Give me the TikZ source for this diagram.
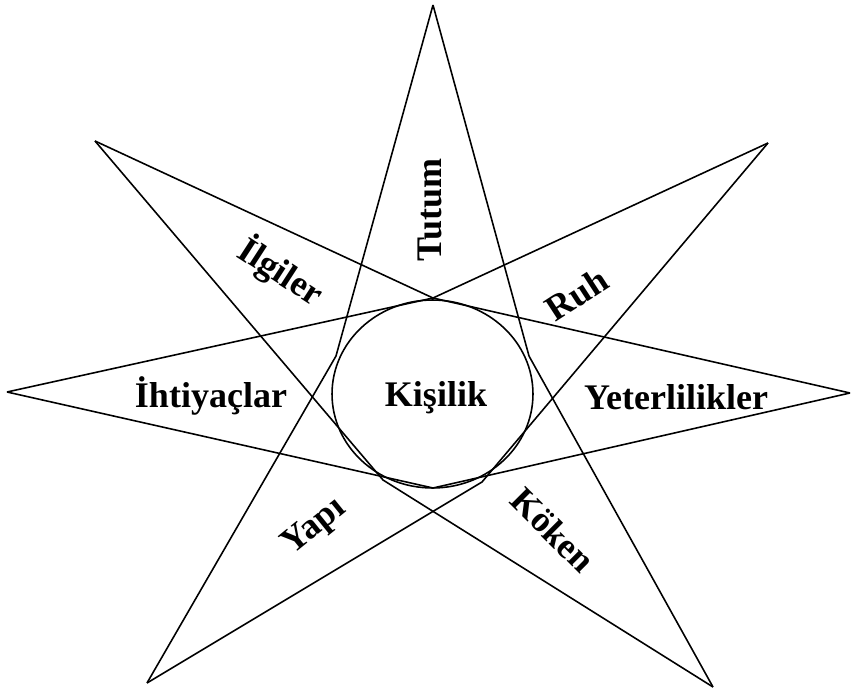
\documentclass[tikz,border=0pt]{standalone}
\usepackage{fontspec}
\setmainfont{Liberation Serif}
\usetikzlibrary{shapes.geometric}

\begin{document}
\begin{tikzpicture}[
    x=0.02cm, y=-0.02cm,
    spike/.style={draw=black, line width=0.9pt, line join=miter},
    core/.style={ellipse, draw=black, line width=0.9pt, minimum width=4.02cm, minimum height=3.76cm, inner sep=0pt},
    word/.style={font=\bfseries\fontsize{20.5}{24}\selectfont, inner sep=0pt},
]
    \useasboundingbox (0,0) rectangle (852,692);

    % tips of the star
    \coordinate (tutum) at (433,5);
    \coordinate (ruh) at (768,143);
    \coordinate (yeter) at (850,393);
    \coordinate (koken) at (713,687);
    \coordinate (yapi) at (147,683);
    \coordinate (ihti) at (7,392);
    \coordinate (ilgi) at (95,141);

    % where the lines bend at the circle
    \coordinate (kN) at (433,298);
    \coordinate (kNW) at (336,356);
    \coordinate (kNE) at (529,356);
    \coordinate (kSW) at (383,480);
    \coordinate (kSE) at (482,482);
    \coordinate (kS) at (433,488);

    \node[core] (kisilik) at (432.5,394) {};
    \node[word] (kisiliktxt) at (436,398) {Kişilik};

    \draw[spike] (tutum) -- (kNW) -- (yapi);
    \draw[spike] (tutum) -- (kNE) -- (koken);
    \draw[spike] (ilgi) -- (kN) -- (yeter);
    \draw[spike] (ihti) -- (kN) -- (ruh);
    \draw[spike] (ihti) -- (kS) -- (yeter);
    \draw[spike] (ilgi) -- (kSW) -- (koken);
    \draw[spike] (ruh) -- (kSE) -- (yapi);

    \node[word, rotate=90] (tutumtxt) at (430,210) {Tutum};
    \node[word, rotate=33] (ruhtxt) at (577,294) {Ruh};
    \node[word] (yetertxt) at (676,397) {Yeterlilikler};
    \node[word, rotate=-45] (kokentxt) at (553,530) {Köken};
    \node[word, rotate=39] (yapitxt) at (315,527) {Yapı};
    \node[word] (ihtitxt) at (211,396) {İhtiyaçlar};
    \node[word, rotate=-33] (ilgitxt) at (281,272) {İlgiler};
\end{tikzpicture}
\end{document}
